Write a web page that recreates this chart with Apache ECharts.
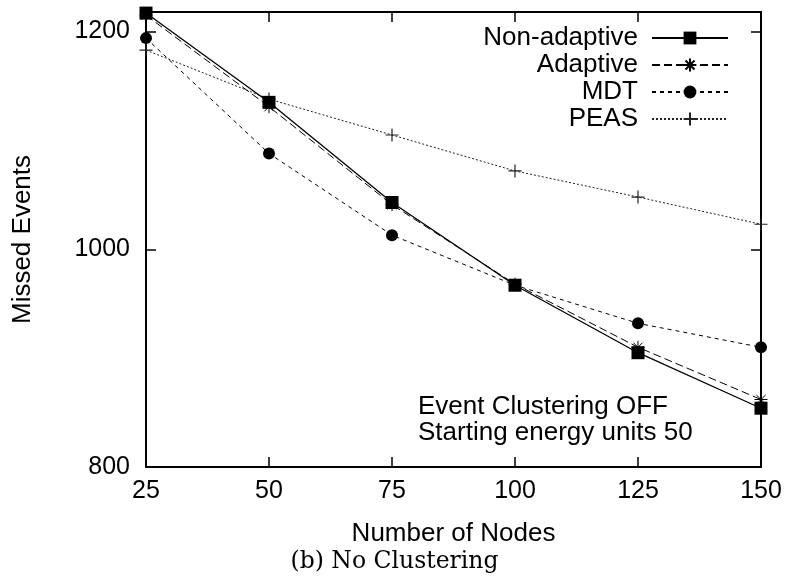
<!DOCTYPE html>
<html>
<head>
<meta charset="utf-8">
<script src="https://cdn.jsdelivr.net/npm/echarts@6/dist/echarts.min.js"></script>
<style>
  html, body { margin: 0; padding: 0; background: #fff; }
  #chart { width: 789px; height: 578px; }
</style>
</head>
<body>
<div id="chart"></div>
<script>
// Number of sensor nodes in the field
const nodes = [25, 50, 75, 100, 125, 150];

// Missed events per scheme
const nonAdaptive = [1217, 1135, 1043, 967, 905, 854];
const adaptive    = [1215, 1131, 1041, 968, 910, 862];
const mdt         = [1194, 1088, 1013, 967, 932, 910];
const peas        = [1183, 1138, 1105, 1072, 1048, 1023];

const seriesNames = ['Non-adaptive', 'Adaptive', 'MDT', 'PEAS'];
const noteLines = ['Event Clustering OFF', 'Starting energy units 50'];
const xTitle = 'Number of Nodes';
const yTitle = 'Missed Events';
const caption = '(b) No Clustering';

const FONT = '"Liberation Sans", Arial, sans-serif';
const INK = '#000';

const toPairs = (vals) => nodes.map((n, i) => [n, vals[i]]);

// gnuplot-style asterisk (plus + cross) and plus markers
const asterisk = 'path://M50,0L50,100M0,50L100,50M15,15L85,85M15,85L85,15';
const plus = 'path://M50,0L50,100M0,50L100,50';

const axisLineStyle = { color: INK, width: 2 };
const tickCfg = { show: true, inside: true, length: 10, lineStyle: { color: INK, width: 1.5 } };
const plainNumber = (v) => String(v);

const chart = echarts.init(document.getElementById('chart'), null, { renderer: 'canvas' });

chart.setOption({
  animation: false,
  backgroundColor: '#fff',
  grid: { left: 146, right: 28, top: 12, bottom: 111, containLabel: false },
  legend: {
    right: 55,
    top: 20,
    orient: 'vertical',
    align: 'right',
    itemWidth: 76,
    itemHeight: 16,
    itemGap: 1,
    data: seriesNames,
    textStyle: { fontFamily: FONT, fontSize: 26, color: INK, lineHeight: 26, padding: [0, 9, 0, 0] },
    inactiveColor: '#999'
  },
  xAxis: [
    {
      type: 'value', min: 25, max: 150, interval: 25, position: 'bottom',
      axisLine: { show: true, lineStyle: axisLineStyle },
      axisTick: tickCfg,
      splitLine: { show: false },
      axisLabel: { fontFamily: FONT, fontSize: 25, color: INK, margin: 12, formatter: plainNumber },
      name: xTitle, nameLocation: 'middle', nameGap: 54,
      nameTextStyle: { fontFamily: FONT, fontSize: 26, color: INK }
    },
    {
      type: 'value', min: 25, max: 150, interval: 25, position: 'top',
      axisLine: { show: true, lineStyle: axisLineStyle },
      axisTick: tickCfg,
      splitLine: { show: false },
      axisLabel: { show: false }
    }
  ],
  yAxis: [
    {
      type: 'value', min: 800, max: 1218, interval: 200, position: 'left',
      axisLine: { show: true, lineStyle: axisLineStyle },
      axisTick: tickCfg,
      splitLine: { show: false },
      axisLabel: { fontFamily: FONT, fontSize: 25, color: INK, margin: 16, showMaxLabel: false, formatter: plainNumber },
      name: yTitle, nameLocation: 'middle', nameGap: 110, nameRotate: 90,
      nameTextStyle: { fontFamily: FONT, fontSize: 26, color: INK }
    },
    {
      type: 'value', min: 800, max: 1218, interval: 200, position: 'right',
      axisLine: { show: true, lineStyle: axisLineStyle },
      axisTick: tickCfg,
      splitLine: { show: false },
      axisLabel: { show: false }
    }
  ],
  series: [
    {
      name: seriesNames[0], type: 'line', data: toPairs(nonAdaptive),
      symbol: 'rect', symbolSize: 13, clip: false, z: 5,
      itemStyle: { color: INK },
      lineStyle: { color: INK, width: 1.3, type: 'solid' }
    },
    {
      name: seriesNames[1], type: 'line', data: toPairs(adaptive),
      symbol: asterisk, symbolSize: 13, clip: false, z: 4,
      itemStyle: { color: 'rgba(0,0,0,0)', borderColor: INK, borderWidth: 1 },
      lineStyle: { color: INK, width: 1, type: [8, 4] }
    },
    {
      name: seriesNames[2], type: 'line', data: toPairs(mdt),
      symbol: 'circle', symbolSize: 12, clip: false, z: 4,
      itemStyle: { color: INK },
      lineStyle: { color: INK, width: 1, type: [4, 4] }
    },
    {
      name: seriesNames[3], type: 'line', data: toPairs(peas),
      symbol: plus, symbolSize: 13, clip: false, z: 3,
      itemStyle: { color: 'rgba(0,0,0,0)', borderColor: '#222', borderWidth: 1.2 },
      lineStyle: { color: '#222', width: 1, type: [2, 2] }
    }
  ],
  graphic: [
    {
      type: 'text', left: 418, top: 394,
      style: { text: noteLines.join('\n'), font: '26px ' + FONT, fill: INK, lineHeight: 26 }
    },
    {
      type: 'text', left: 'center', top: 550,
      style: { text: caption, font: '23.5px "DejaVu Serif", serif', fill: INK }
    }
  ]
});
</script>
</body>
</html>
